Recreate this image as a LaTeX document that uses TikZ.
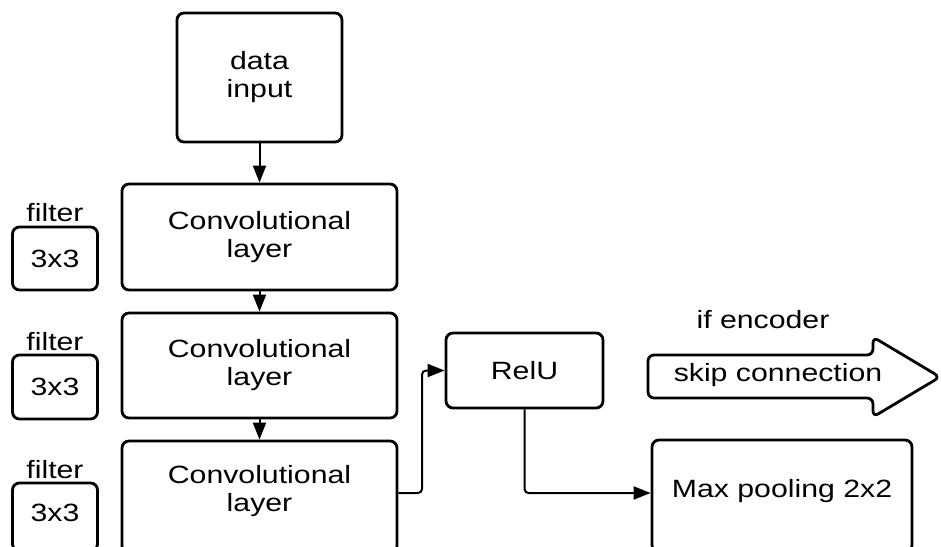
\documentclass[tikz,border=0pt]{standalone}
\usepackage{fontspec}
\setmainfont{Liberation Sans}[FakeStretch=1.21]
\usetikzlibrary{arrows.meta}
\begin{document}
\begin{tikzpicture}[x=1pt,y=-1pt,
  every node/.style={font=\fontsize{25}{28}\selectfont, align=center, inner sep=0pt},
  box/.style={draw, line width=2.8pt, rounded corners=7pt},
  conn/.style={line width=2pt, rounded corners=4pt, -{Triangle[length=17pt,width=13pt]}},
  plain/.style={draw=none}]
\clip (0,0) rectangle (941,546);
\fill[white] (0,0) rectangle (941,546);
% main column
\node[box, minimum width=165pt, minimum height=129pt] (din) at (259.5,77.5) {data\\input};
\node[box, minimum width=275pt, minimum height=106pt] (c1) at (259.5,237) {Convolutional\\layer};
\node[box, minimum width=275pt, minimum height=105pt] (c2) at (259.5,365.5) {Convolutional\\layer};
\node[box, minimum width=275pt, minimum height=112pt] (c3) at (259.5,497) {};
\node[plain] (c3t) at (259.5,491) {Convolutional\\layer};
% filters
\node[plain] (fl1) at (55,213) {filter};
\node[box, minimum width=85pt, minimum height=63pt] (f1) at (55,258.5) {3x3};
\node[plain] (fl2) at (55,342) {filter};
\node[box, minimum width=85pt, minimum height=64pt] (f2) at (55,387) {3x3};
\node[plain] (fl3) at (55,470) {filter};
\node[box, minimum width=85pt, minimum height=68pt] (f3) at (55,517) {};
\node[plain] (f3t) at (55,513) {3x3};
% right side
\node[box, minimum width=157pt, minimum height=75pt] (relu) at (524.5,370.5) {RelU};
\node[box, minimum width=260pt, minimum height=112pt] (mp) at (782,496) {};
\node[plain] (mpt) at (782,491) {Max pooling 2x2};
% skip connection arrow
\draw[line width=2.8pt, rounded corners=6pt]
  (648,355) -- (873,355) -- (873,337) -- (940,377) -- (873,417) -- (873,398) -- (648,398) -- cycle;
\node[plain] (skip) at (778,375) {skip connection};
\node[plain] (enc) at (763,320) {if encoder};
% connectors
\draw[conn] (din.south) -- (c1.north);
\draw[conn] (c1.south) -- (c2.north);
\draw[conn] (c2.south) -- (c3.north);
\draw[conn] (c3.east |- 0,493) -- (422,493) |- (relu.west);
\draw[conn] (relu.south) |- (mp.west |- 0,493);
\end{tikzpicture}
\end{document}
